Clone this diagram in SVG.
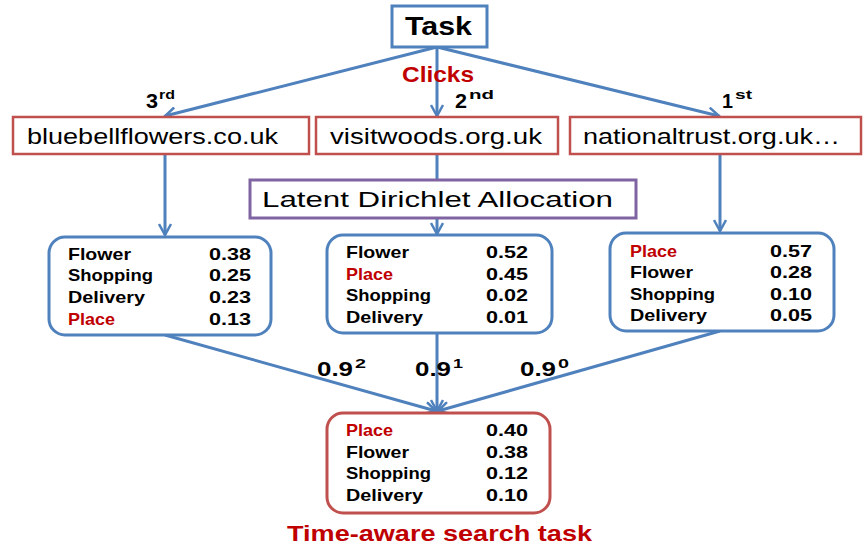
<svg xmlns="http://www.w3.org/2000/svg" width="865" height="547" viewBox="0 0 865 547">
<defs>
<marker id="arr" viewBox="0 0 14 14" refX="12" refY="7" markerWidth="14" markerHeight="14" markerUnits="userSpaceOnUse" orient="auto">
<polyline points="1,1 12,7 1,13" fill="none" stroke="#4f81bd" stroke-width="2.5"/>
</marker>
<style>
text{font-family:"Liberation Sans",Arial,sans-serif}
.c{stroke:#4f81bd;stroke-width:3;fill:none;marker-end:url(#arr)}
.site{fill:#fff;stroke:#c0504d;stroke-width:2.5}
.st{font-size:22px;fill:#000}
.tb{fill:#fff;stroke:#4f81bd;stroke-width:3}
.rb{fill:#fff;stroke:#c0504d;stroke-width:3}
.r{font-weight:bold;font-size:16.5px;fill:#000}
.red{fill:#c00000}
.v{text-anchor:end}
.lab{font-weight:bold;font-size:20px;fill:#000}
.sup{font-weight:bold;font-size:13px;fill:#000}
</style>
</defs>
<g id="connectors">
<line class="c" x1="437" y1="47" x2="165" y2="116"/>
<line class="c" x1="437" y1="47" x2="437" y2="116"/>
<line class="c" x1="437" y1="47" x2="719" y2="116"/>
<line class="c" x1="165" y1="154" x2="165" y2="235"/>
<line x1="437" y1="154" x2="437" y2="180" stroke="#4f81bd" stroke-width="3"/>
<line class="c" x1="437" y1="218" x2="437" y2="234"/>
<line class="c" x1="720" y1="154" x2="720" y2="231"/>
<line class="c" x1="165" y1="335" x2="436" y2="411"/>
<line class="c" x1="437" y1="333" x2="437" y2="411"/>
<line class="c" x1="720" y1="331" x2="438" y2="411"/>
</g>
<g id="task">
<rect x="392" y="6" width="95" height="41" fill="#fff" stroke="#4f81bd" stroke-width="3"/>
<text x="405" y="35" font-weight="bold" font-size="26" textLength="67" lengthAdjust="spacingAndGlyphs">Task</text>
</g>
<text id="clicks" x="402" y="82" font-weight="bold" font-size="22" fill="#c00000" textLength="72" lengthAdjust="spacingAndGlyphs">Clicks</text>
<g id="ranks">
<text class="lab" x="146" y="108" font-size="19" textLength="12" lengthAdjust="spacingAndGlyphs">3</text>
<text class="sup" x="159" y="99" font-size="12" textLength="16" lengthAdjust="spacingAndGlyphs">rd</text>
<text class="lab" x="455" y="108" font-size="19" textLength="12" lengthAdjust="spacingAndGlyphs">2</text>
<text class="sup" x="469" y="99" font-size="12" textLength="25" lengthAdjust="spacingAndGlyphs">nd</text>
<text class="lab" x="722" y="108" font-size="19" textLength="11" lengthAdjust="spacingAndGlyphs">1</text>
<text class="sup" x="735" y="99" font-size="12" textLength="17" lengthAdjust="spacingAndGlyphs">st</text>
</g>
<g id="site1">
<rect class="site" x="13" y="117" width="296" height="37"/>
<text class="st" x="27" y="144" textLength="251" lengthAdjust="spacingAndGlyphs">bluebellflowers.co.uk</text>
</g>
<g id="site2">
<rect class="site" x="316" y="117" width="242" height="37"/>
<text class="st" x="330" y="144" textLength="212" lengthAdjust="spacingAndGlyphs">visitwoods.org.uk</text>
</g>
<g id="site3">
<rect class="site" x="570" y="117" width="291" height="37"/>
<text class="st" x="583" y="144" textLength="257" lengthAdjust="spacingAndGlyphs">nationaltrust.org.uk…</text>
</g>
<g id="lda">
<rect x="250" y="180" width="386" height="38" fill="#fff" stroke="#8064a2" stroke-width="3"/>
<text x="262" y="207" font-size="22" textLength="351" lengthAdjust="spacingAndGlyphs">Latent Dirichlet Allocation</text>
</g>
<g id="topics1">
<rect class="tb" x="49" y="237" width="222" height="98" rx="16"/>
<text class="r" x="68" y="260" textLength="63" lengthAdjust="spacingAndGlyphs">Flower</text><text class="r v" x="251" y="260" textLength="42" lengthAdjust="spacingAndGlyphs">0.38</text>
<text class="r" x="68" y="281" textLength="85" lengthAdjust="spacingAndGlyphs">Shopping</text><text class="r v" x="251" y="281" textLength="42" lengthAdjust="spacingAndGlyphs">0.25</text>
<text class="r" x="68" y="303" textLength="77" lengthAdjust="spacingAndGlyphs">Delivery</text><text class="r v" x="251" y="303" textLength="42" lengthAdjust="spacingAndGlyphs">0.23</text>
<text class="r red" x="68" y="325" textLength="47" lengthAdjust="spacingAndGlyphs">Place</text><text class="r v" x="251" y="325" textLength="42" lengthAdjust="spacingAndGlyphs">0.13</text>
</g>
<g id="topics2">
<rect class="tb" x="327" y="235" width="225" height="98" rx="16"/>
<text class="r" x="346" y="258" textLength="63" lengthAdjust="spacingAndGlyphs">Flower</text><text class="r v" x="528" y="258" textLength="42" lengthAdjust="spacingAndGlyphs">0.52</text>
<text class="r red" x="346" y="280" textLength="47" lengthAdjust="spacingAndGlyphs">Place</text><text class="r v" x="528" y="280" textLength="42" lengthAdjust="spacingAndGlyphs">0.45</text>
<text class="r" x="346" y="301" textLength="85" lengthAdjust="spacingAndGlyphs">Shopping</text><text class="r v" x="528" y="301" textLength="42" lengthAdjust="spacingAndGlyphs">0.02</text>
<text class="r" x="346" y="323" textLength="77" lengthAdjust="spacingAndGlyphs">Delivery</text><text class="r v" x="528" y="323" textLength="42" lengthAdjust="spacingAndGlyphs">0.01</text>
</g>
<g id="topics3">
<rect class="tb" x="610" y="233" width="224" height="98" rx="16"/>
<text class="r red" x="630" y="257" textLength="47" lengthAdjust="spacingAndGlyphs">Place</text><text class="r v" x="812" y="257" textLength="42" lengthAdjust="spacingAndGlyphs">0.57</text>
<text class="r" x="630" y="278" textLength="63" lengthAdjust="spacingAndGlyphs">Flower</text><text class="r v" x="812" y="278" textLength="42" lengthAdjust="spacingAndGlyphs">0.28</text>
<text class="r" x="630" y="300" textLength="85" lengthAdjust="spacingAndGlyphs">Shopping</text><text class="r v" x="812" y="300" textLength="42" lengthAdjust="spacingAndGlyphs">0.10</text>
<text class="r" x="630" y="321" textLength="77" lengthAdjust="spacingAndGlyphs">Delivery</text><text class="r v" x="812" y="321" textLength="42" lengthAdjust="spacingAndGlyphs">0.05</text>
</g>
<g id="weights">
<text class="lab" x="317" y="376" textLength="36" lengthAdjust="spacingAndGlyphs">0.9</text><text class="sup" x="355" y="368" textLength="11" lengthAdjust="spacingAndGlyphs">2</text>
<text class="lab" x="415" y="376" textLength="36" lengthAdjust="spacingAndGlyphs">0.9</text><text class="sup" x="453" y="368" textLength="10" lengthAdjust="spacingAndGlyphs">1</text>
<text class="lab" x="520" y="376" textLength="36" lengthAdjust="spacingAndGlyphs">0.9</text><text class="sup" x="558" y="368" textLength="11" lengthAdjust="spacingAndGlyphs">0</text>
</g>
<g id="result">
<rect class="rb" x="327" y="413" width="223" height="100" rx="16"/>
<text class="r red" x="346" y="436" textLength="47" lengthAdjust="spacingAndGlyphs">Place</text><text class="r v" x="528" y="436" textLength="42" lengthAdjust="spacingAndGlyphs">0.40</text>
<text class="r" x="346" y="458" textLength="63" lengthAdjust="spacingAndGlyphs">Flower</text><text class="r v" x="528" y="458" textLength="42" lengthAdjust="spacingAndGlyphs">0.38</text>
<text class="r" x="346" y="479" textLength="85" lengthAdjust="spacingAndGlyphs">Shopping</text><text class="r v" x="528" y="479" textLength="42" lengthAdjust="spacingAndGlyphs">0.12</text>
<text class="r" x="346" y="501" textLength="77" lengthAdjust="spacingAndGlyphs">Delivery</text><text class="r v" x="528" y="501" textLength="42" lengthAdjust="spacingAndGlyphs">0.10</text>
</g>
<text id="caption" x="287" y="541" font-weight="bold" font-size="22" fill="#c00000" textLength="305" lengthAdjust="spacingAndGlyphs">Time-aware search task</text>
</svg>
